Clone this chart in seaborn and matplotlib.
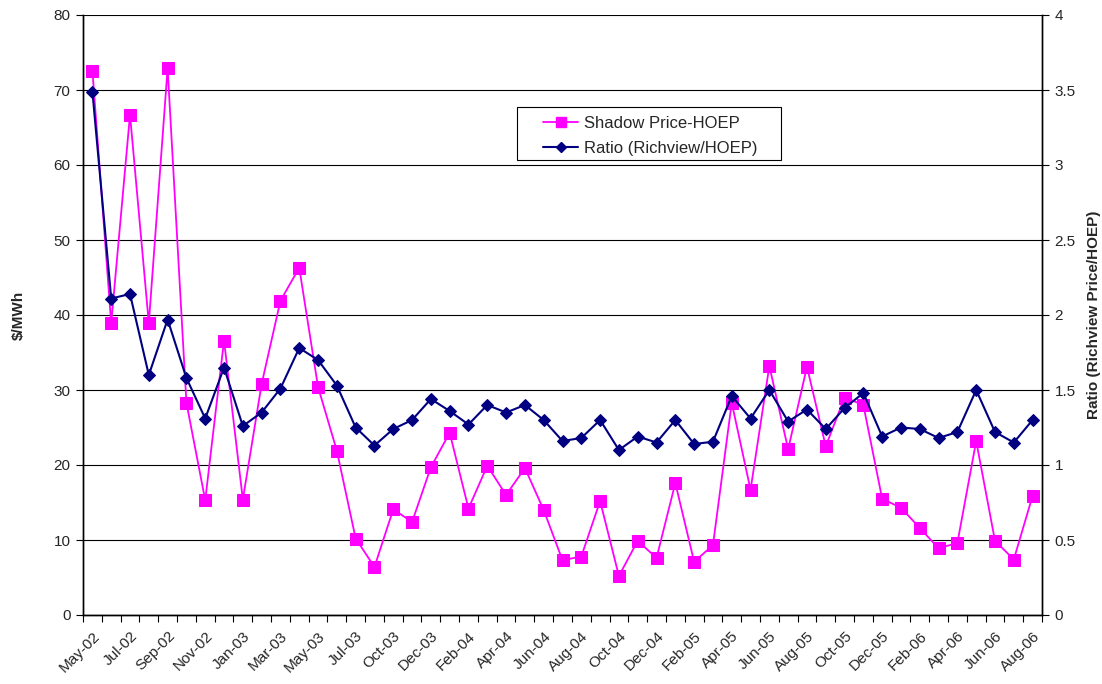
import matplotlib
matplotlib.use("Agg")
import matplotlib.pyplot as plt
from matplotlib.ticker import FixedLocator, MultipleLocator, NullFormatter, FuncFormatter
from matplotlib.lines import Line2D
from matplotlib.patches import Rectangle
import seaborn as sns
import pandas as pd

# Monthly categories (Aug-03 has no data)
months = [
    "May-02", "Jun-02", "Jul-02", "Aug-02", "Sep-02", "Oct-02", "Nov-02", "Dec-02",
    "Jan-03", "Feb-03", "Mar-03", "Apr-03", "May-03", "Jun-03", "Jul-03", "Sep-03",
    "Oct-03", "Nov-03", "Dec-03", "Jan-04", "Feb-04", "Mar-04", "Apr-04", "May-04",
    "Jun-04", "Jul-04", "Aug-04", "Sep-04", "Oct-04", "Nov-04", "Dec-04", "Jan-05",
    "Feb-05", "Mar-05", "Apr-05", "May-05", "Jun-05", "Jul-05", "Aug-05", "Sep-05",
    "Oct-05", "Nov-05", "Dec-05", "Jan-06", "Feb-06", "Mar-06", "Apr-06", "May-06",
    "Jun-06", "Jul-06", "Aug-06",
]

# Shadow price minus HOEP ($/MWh)
shadow_price_hoep = [
    72.6, 38.9, 66.7, 38.9, 72.9, 28.3, 15.3, 36.6,
    15.4, 30.8, 41.9, 46.3, 30.4, 21.9, 10.2, 6.4,
    14.1, 12.4, 19.7, 24.3, 14.2, 19.9, 16.0, 19.6,
    14.0, 7.3, 7.8, 15.2, 5.2, 9.9, 7.6, 17.6,
    7.1, 9.3, 28.3, 16.7, 33.2, 22.1, 33.1, 22.5,
    29.0, 28.0, 15.5, 14.3, 11.6, 8.9, 9.6, 23.2,
    9.9, 7.4, 15.9,
]

# Ratio of Richview price to HOEP
ratio_richview_hoep = [
    3.49, 2.11, 2.14, 1.60, 1.97, 1.58, 1.31, 1.65,
    1.26, 1.35, 1.51, 1.78, 1.70, 1.53, 1.25, 1.13,
    1.24, 1.30, 1.44, 1.36, 1.27, 1.40, 1.35, 1.40,
    1.30, 1.16, 1.18, 1.30, 1.10, 1.19, 1.15, 1.30,
    1.14, 1.155, 1.46, 1.31, 1.50, 1.29, 1.37, 1.24,
    1.38, 1.48, 1.19, 1.25, 1.24, 1.18, 1.22, 1.50,
    1.22, 1.15, 1.30,
]

series_names = ["Shadow Price-HOEP", "Ratio (Richview/HOEP)"]
pink = "#FF00FF"
navy = "#000080"

df = pd.DataFrame({
    "idx": range(len(months)),
    "month": months,
    "shadow": shadow_price_hoep,
    "ratio": ratio_richview_hoep,
})

sns.set_theme(style="white")
plt.rcParams["font.family"] = ["Liberation Sans", "DejaVu Sans"]
fs = 11

fig = plt.figure(figsize=(11.02, 6.84), dpi=100)
ax = fig.add_axes([83 / 1102, 69 / 684, 959 / 1102, 600 / 684])
ax2 = ax.twinx()

sns.lineplot(data=df, x="idx", y="shadow", ax=ax, color=pink, lw=1.3,
             marker="s", markersize=8, markeredgecolor=pink, markerfacecolor=pink,
             zorder=3)
sns.lineplot(data=df, x="idx", y="ratio", ax=ax2, color=navy, lw=1.5,
             marker="D", markersize=6, markeredgecolor=navy, markerfacecolor=navy,
             zorder=4)

n = len(months)
for a in (ax, ax2):
    a.set_xlim(-0.5, n - 0.5)
    a.set_facecolor("none")
ax.set_ylim(0, 80)
ax2.set_ylim(0, 4)
ax.yaxis.set_major_locator(MultipleLocator(10))
ax2.yaxis.set_major_locator(MultipleLocator(0.5))
ax2.yaxis.set_major_formatter(FuncFormatter(lambda v, p: f"{v:g}"))

# Horizontal gridlines on the left scale
ax.grid(axis="y", color="black", lw=0.8)
ax.grid(axis="x", visible=False)
ax2.grid(False)
ax.set_axisbelow(True)

# Category axis: tick marks between months, every second month labelled
ax.xaxis.set_major_locator(FixedLocator([i - 0.5 for i in range(n + 1)]))
ax.xaxis.set_major_formatter(NullFormatter())
ax.set_xticks(list(range(0, n, 2)), minor=True)
ax.set_xticklabels([months[i] for i in range(0, n, 2)], minor=True,
                   rotation=45, ha="right", va="top", rotation_mode="anchor",
                   fontsize=fs)
ax.tick_params(axis="x", which="major", direction="out", length=5, width=0.8,
               color="black", bottom=True)
ax.tick_params(axis="x", which="minor", length=0, pad=10)
ax.tick_params(axis="y", direction="out", length=5, width=0.8, color="black",
               left=True, labelsize=fs, pad=4)
ax2.tick_params(axis="y", direction="out", length=5, width=0.8, color="black",
                right=True, labelsize=fs, pad=4)

for a in (ax, ax2):
    a.spines["top"].set_visible(False)
    for sp in ("left", "right", "bottom"):
        a.spines[sp].set_color("black")
        a.spines[sp].set_linewidth(1.0)

ax.set_xlabel("")
ax.set_ylabel("\\$/MWh", fontsize=fs, fontweight="bold", labelpad=20)
ax2.set_ylabel("Ratio (Richview Price/HOEP)", fontsize=fs, fontweight="bold", labelpad=8)

# Legend: entries without frame, then a box drawn around them
handles = [
    Line2D([], [], color=pink, lw=1.3, marker="s", markersize=7),
    Line2D([], [], color=navy, lw=1.5, marker="D", markersize=5),
]
leg = ax2.legend(handles, series_names, loc="upper left",
                 bbox_to_anchor=(0.4797, 0.832), frameon=False,
                 fontsize=12, handlelength=2.1, borderpad=0, borderaxespad=0,
                 labelspacing=0.6, handletextpad=0.35)
box = Rectangle((0.4526, 0.7583), 0.7278 - 0.4526, 0.8467 - 0.7583,
                transform=ax2.transAxes, facecolor="white", edgecolor="black",
                lw=0.8, zorder=5)
ax2.add_patch(box)
leg.set_zorder(6)

fig.savefig("out.png", dpi=100)
